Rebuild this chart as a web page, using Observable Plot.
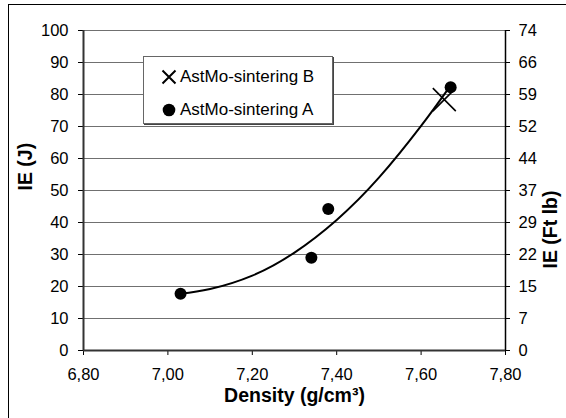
<!DOCTYPE html>
<html><head><meta charset="utf-8">
<script src="https://cdn.jsdelivr.net/npm/d3@7"></script>
<script src="https://cdn.jsdelivr.net/npm/@observablehq/plot@0.6"></script>
<style>
html,body{margin:0;padding:0;background:#fff;width:566px;height:418px;overflow:hidden;}
#wrap{position:relative;width:566px;height:418px;font-family:"Liberation Sans",Arial,sans-serif;}
#frame{position:absolute;left:8px;top:4px;width:600px;height:500px;border:1px solid #000;box-sizing:border-box;}
#chart{position:absolute;left:0;top:0;}
#legend{position:absolute;left:143px;top:56px;width:190px;height:68px;border:1px solid #666;box-shadow:1px 1px 0 #444;background:#fff;box-sizing:border-box;font-size:17px;color:#000;}
.item{position:absolute;left:0;height:20px;display:flex;align-items:center;white-space:nowrap;}
.item svg{width:50px;height:20px;flex:none;}
.item span{margin-left:-14px;}
</style></head><body>
<div id="wrap"><div id="frame"></div><div id="chart"></div><div id="legend"></div></div>
<script>
// Data
const densityA = [7.03, 7.34, 7.38, 7.67];
const ieA = [17.7, 29.0, 44.2, 82.3];
const densityB = [7.655];
const ieB = [78.4];
const trendDensity = [7.03, 7.10, 7.20, 7.30, 7.40, 7.50, 7.60, 7.66];
const trendIE = [17.7, 19.2, 23.4, 30.6, 40.8, 54.0, 70.2, 81.0];
const xTicks = [6.8, 7.0, 7.2, 7.4, 7.6, 7.8];
const xTickLabels = ["6,80", "7,00", "7,20", "7,40", "7,60", "7,80"];
const yTicks = [0, 10, 20, 30, 40, 50, 60, 70, 80, 90, 100];
const yRightLabels = ["0", "7", "15", "22", "29", "37", "44", "52", "59", "66", "74"];
const seriesNames = ["AstMo-sintering B", "AstMo-sintering A"];
const xTitle = "Density (g/cm³)";
const yTitle = "IE (J)";
const yRightTitle = "IE (Ft lb)";

const A = densityA.map((d, i) => ({density: d, ie: ieA[i]}));
const B = densityB.map((d, i) => ({density: d, ie: ieB[i]}));
const trend = trendDensity.map((d, i) => ({density: d, ie: trendIE[i]}));

const chart = Plot.plot({
  width: 566, height: 418,
  marginLeft: 83, marginRight: 61, marginTop: 30, marginBottom: 68,
  style: {fontFamily: "'Liberation Sans', Arial, sans-serif", fontSize: "16px", color: "#000", background: "transparent", overflow: "visible"},
  x: {domain: [6.8, 7.8]},
  y: {domain: [0, 100]},
  marks: [
    Plot.gridY(yTicks, {stroke: "#707070", strokeOpacity: 1, strokeWidth: 1}),
    Plot.axisY(yTicks, {anchor: "left", tickSize: 5, tickPadding: 10, label: null, stroke: "#000", fontSize: 16.5}),
    Plot.axisY(yTicks, {anchor: "right", tickSize: 4, tickPadding: 9, label: null, stroke: "#000", fontSize: 16.5,
      tickFormat: (d) => yRightLabels[yTicks.indexOf(d)]}),
    Plot.axisX(xTicks, {anchor: "bottom", tickSize: 5, tickPadding: 13, label: null, stroke: "#000", fontSize: 16.5,
      tickFormat: (d) => xTickLabels[xTicks.indexOf(d)]}),
    Plot.ruleX([6.8], {stroke: "#333", strokeWidth: 2}),
    Plot.ruleX([7.8], {stroke: "#000", strokeWidth: 1.5}),
    Plot.ruleY([0], {stroke: "#333", strokeWidth: 2}),
    Plot.line(trend, {x: "density", y: "ie", curve: "natural", stroke: "#000", strokeWidth: 2}),
    Plot.dot(B, {x: "density", y: "ie", symbol: "times", r: 10.5, stroke: "#000", strokeWidth: 1.6}),
    Plot.dot(A, {x: "density", y: "ie", r: 6, fill: "#000", stroke: "none"}),
    Plot.text([xTitle], {frameAnchor: "bottom", dy: 51, fontWeight: "bold", fontSize: 19.5, fill: "#000"}),
    Plot.text([yTitle], {frameAnchor: "left", dx: -58, rotate: -90, fontWeight: "bold", fontSize: 19.5, fill: "#000"}),
    Plot.text([yRightTitle], {frameAnchor: "right", dx: 45, rotate: -90, fontWeight: "bold", fontSize: 19.5, fill: "#000"})
  ]
});
document.getElementById("chart").appendChild(chart);

// Legend overlay
const legend = document.getElementById("legend");
const symbols = [
  `<svg viewBox="0 0 50 20"><path d="M18.5,3.5 L31.5,16.5 M31.5,3.5 L18.5,16.5" stroke="#000" stroke-width="2" fill="none"/></svg>`,
  `<svg viewBox="0 0 50 20"><circle cx="25" cy="10" r="6.3" fill="#000"/></svg>`
];
const tops = [10, 43];
seriesNames.forEach((name, i) => {
  const div = document.createElement("div");
  div.className = "item";
  div.style.top = tops[i] + "px";
  div.innerHTML = symbols[i] + `<span>${name}</span>`;
  legend.appendChild(div);
});
</script>
</body></html>
